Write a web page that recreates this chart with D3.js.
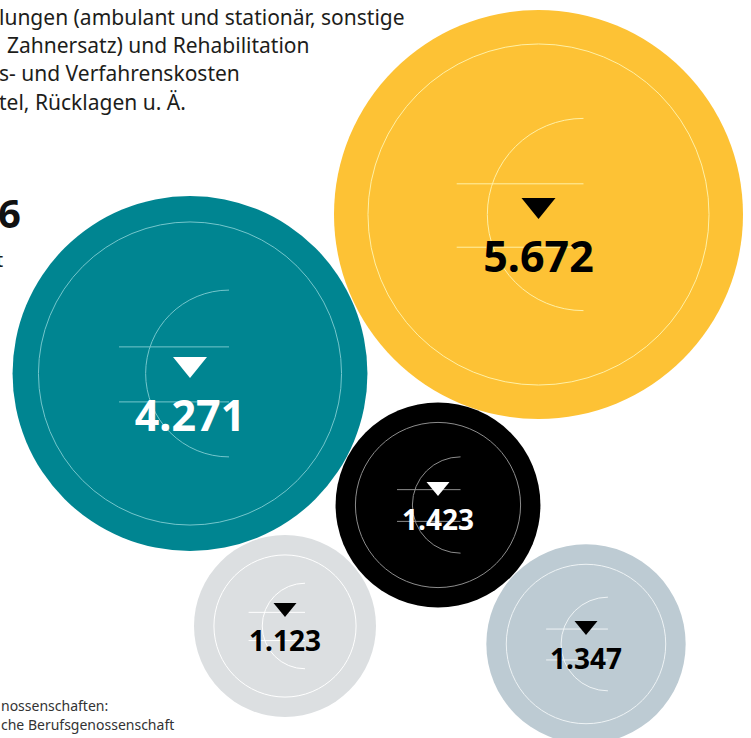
<!DOCTYPE html>
<html>
<head>
<meta charset="utf-8">
<script src="https://cdn.jsdelivr.net/npm/d3@7"></script>
<style>
    body { margin: 0; background: #fff; }
    svg { display: block; font-family: "Noto Sans", "Open Sans", sans-serif; }
</style>
</head>
<body>
<div class="chart"></div>
<script>
// values per Berufsgenossenschaft (Mio. €)
const values = [5672, 4271, 1423, 1123, 1347];
// share shown by the inner ring
const innerValues = [3944, 3115, 925, 685, 862];

const legendLines = [
    "lungen (ambulant und stationär, sonstige",
    "Zahnersatz) und Rehabilitation",
    "s- und Verfahrenskosten",
    "tel, Rücklagen u. Ä."
];
const footnoteLines = [
    "nossenschaften:",
    "che Berufsgenossenschaft"
];

const svgW = 751;
const svgH = 738;

// packed layout, hand placed
const centers = [[538.5, 214.5], [190, 373.5], [438, 505], [285, 626], [586, 644]];
const fills = ["#fdc235", "#008591", "#000000", "#dcdfe1", "#bdcbd3"];
const strokes = ["#fff0a6", "#74c6cc", "#8c8c8c", "#ffffff", "#eef3f5"];
const inks = ["#000", "#fff", "#fff", "#000", "#000"];

const de = d3.formatLocale({decimal: ",", thousands: ".", grouping: [3], currency: ["", " €"]});
const fmt = de.format(",");

const r = d3.scaleSqrt().domain([0, d3.max(values)]).range([0, 204.5]);

const svg = d3.select("div.chart")
    .append("svg")
        .attr("width", svgW)
        .attr("height", svgH);

// legend text (cut at the left edge in the original)
svg.append("g")
    .selectAll("text")
    .data(legendLines)
    .join("text")
    .attr("x", (d, i) => i === 1 ? 7 : -1)
    .attr("y", (d, i) => 25 + i * 28.2)
    .attr("font-size", 21)
    .attr("fill", "#1d1d1b")
    .text(d => d);

svg.append("text")
    .attr("x", -2)
    .attr("y", 228)
    .attr("font-size", 40)
    .attr("font-weight", 700)
    .attr("fill", "#111")
    .text("6");

svg.append("text")
    .attr("x", 3)
    .attr("y", 267)
    .attr("text-anchor", "end")
    .attr("font-size", 19)
    .attr("fill", "#1d1d1b")
    .text("t");

svg.append("g")
    .selectAll("text")
    .data(footnoteLines)
    .join("text")
    .attr("x", 1)
    .attr("y", (d, i) => 711 + i * 19)
    .attr("font-size", 14)
    .attr("fill", "#333")
    .text(d => d);

const bubbles = svg.append("g")
    .selectAll("g")
    .data(values)
    .join("g")
    .attr("transform", (d, i) => `translate(${centers[i][0]},${centers[i][1]})`);

bubbles.append("circle")
    .attr("r", d => r(d))
    .attr("fill", (d, i) => fills[i]);

bubbles.append("circle")
    .attr("r", (d, i) => r(innerValues[i]))
    .attr("fill", "none")
    .attr("stroke", (d, i) => strokes[i])
    .attr("stroke-width", 1);

// euro sign: half circle + two bars
function euroPath(rad) {
    const R = rad * 0.47;
    const ex = rad * 0.22;
    const p = d3.path();
    p.arc(ex, 0, R, -Math.PI / 2, Math.PI / 2, true);
    p.moveTo(-rad * 0.4, -rad * 0.15);
    p.lineTo(ex, -rad * 0.15);
    p.moveTo(-rad * 0.4, rad * 0.16);
    p.lineTo(ex, rad * 0.16);
    return p.toString();
}

bubbles.append("path")
    .attr("d", d => euroPath(r(d)))
    .attr("fill", "none")
    .attr("stroke", (d, i) => strokes[i])
    .attr("stroke-width", 1);

const big = d => r(d) > 150;

bubbles.append("path")
    .attr("d", d => {
        const w = big(d) ? 34 : 23;
        const h = big(d) ? 21 : 14;
        const top = big(d) ? -16.5 : -23;
        return d3.line()([[-w / 2, top], [w / 2, top], [0, top + h]]) + "Z";
    })
    .attr("fill", (d, i) => inks[i]);

bubbles.append("text")
    .attr("y", d => big(d) ? 57 : 25)
    .attr("text-anchor", "middle")
    .attr("font-size", d => big(d) ? 43 : 28)
    .attr("font-weight", 700)
    .attr("fill", (d, i) => inks[i])
    .text(d => fmt(d));
</script>
</body>
</html>
